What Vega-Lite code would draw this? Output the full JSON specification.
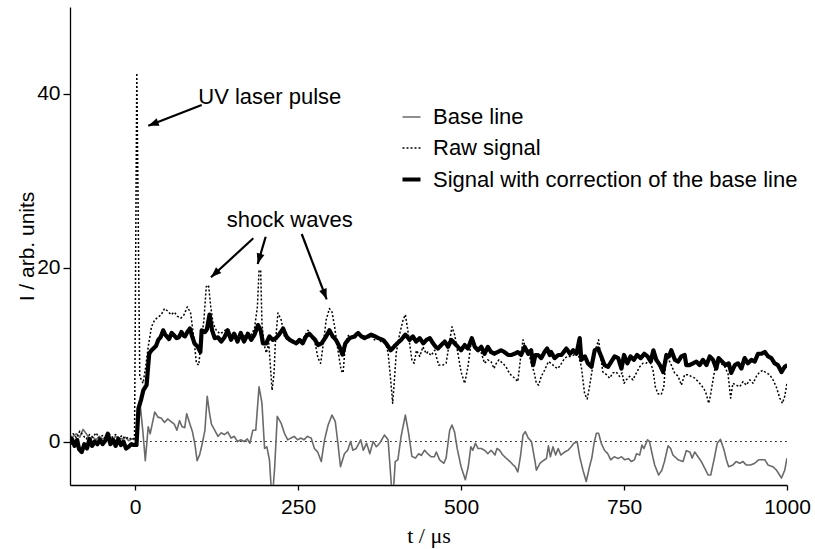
{
  "$schema": "https://vega.github.io/schema/vega-lite/v6.json",
  "autosize": "none",
  "width": 717,
  "height": 478,
  "padding": {"left": 70, "top": 7, "right": 28, "bottom": 64},
  "background": "white",
  "config": {
    "view": {"stroke": null},
    "axis": {"grid": false, "domainColor": "black", "domainWidth": 1.3, "tickColor": "black", "tickWidth": 1.3, "labelColor": "black", "titleColor": "black", "labelFont": "Liberation Sans", "labelFontSize": 21, "labelFontWeight": "normal", "titleFontWeight": "normal"},
    "legend": {"labelFont": "Liberation Sans", "labelFontSize": 22, "labelColor": "black", "labelLimit": 0}
  },
  "datasets": {
    "lines": [
      {"s":"base","t":-100,"v":0.3},{"s":"base","t":-95,"v":0.6},{"s":"base","t":-90,"v":0.9},{"s":"base","t":-85,"v":0.5},{"s":"base","t":-80,"v":1.4},{"s":"base","t":-75,"v":0.9},{"s":"base","t":-70,"v":0.3},{"s":"base","t":-65,"v":0.5},{"s":"base","t":-60,"v":0.2},{"s":"base","t":-55,"v":0.6},{"s":"base","t":-50,"v":0.3},{"s":"base","t":-45,"v":0.5},{"s":"base","t":-40,"v":0.7},{"s":"base","t":-35,"v":0.2},{"s":"base","t":-30,"v":0.6},{"s":"base","t":-25,"v":0.4},{"s":"base","t":-20,"v":0.3},{"s":"base","t":-15,"v":0.5},{"s":"base","t":-10,"v":0.1},{"s":"base","t":-5,"v":0.3},{"s":"base","t":0,"v":0.2},{"s":"base","t":4,"v":1.5},{"s":"base","t":8,"v":4.0},{"s":"base","t":12,"v":1.0},{"s":"base","t":15.5,"v":-2.2},{"s":"base","t":20,"v":1.7},{"s":"base","t":23,"v":0.9},{"s":"base","t":30,"v":3.4},{"s":"base","t":35,"v":2.8},{"s":"base","t":40,"v":2.7},{"s":"base","t":45,"v":2.2},{"s":"base","t":50,"v":2.6},{"s":"base","t":55,"v":2.3},{"s":"base","t":60,"v":2.0},{"s":"base","t":64,"v":1.3},{"s":"base","t":68,"v":2.4},{"s":"base","t":72,"v":1.7},{"s":"base","t":76,"v":1.6},{"s":"base","t":79,"v":3.2},{"s":"base","t":84,"v":2.0},{"s":"base","t":88,"v":1.1},{"s":"base","t":92,"v":-0.5},{"s":"base","t":95,"v":-2.2},{"s":"base","t":99,"v":-1.5},{"s":"base","t":103,"v":-0.2},{"s":"base","t":107,"v":1.3},{"s":"base","t":110.5,"v":5.2},{"s":"base","t":114,"v":3.3},{"s":"base","t":117,"v":2.0},{"s":"base","t":122,"v":1.3},{"s":"base","t":127,"v":0.6},{"s":"base","t":132,"v":1.0},{"s":"base","t":137,"v":0.8},{"s":"base","t":142,"v":1.1},{"s":"base","t":147,"v":0.4},{"s":"base","t":152,"v":0.6},{"s":"base","t":157,"v":0.0},{"s":"base","t":162,"v":0.2},{"s":"base","t":167,"v":0.0},{"s":"base","t":172,"v":0.3},{"s":"base","t":176,"v":-0.2},{"s":"base","t":180.5,"v":1.3},{"s":"base","t":185,"v":1.3},{"s":"base","t":190,"v":6.3},{"s":"base","t":194.5,"v":4.4},{"s":"base","t":198.5,"v":-0.8},{"s":"base","t":202,"v":-0.6},{"s":"base","t":206,"v":-2.1},{"s":"base","t":210,"v":-7},{"s":"base","t":214,"v":-3.0},{"s":"base","t":218,"v":2.9},{"s":"base","t":224,"v":2.1},{"s":"base","t":229,"v":0.95},{"s":"base","t":234,"v":0.2},{"s":"base","t":239,"v":0.4},{"s":"base","t":244,"v":0.6},{"s":"base","t":249,"v":0.2},{"s":"base","t":254,"v":0.4},{"s":"base","t":259,"v":0.2},{"s":"base","t":264,"v":0.6},{"s":"base","t":270,"v":0.4},{"s":"base","t":275,"v":-0.8},{"s":"base","t":280,"v":-1.2},{"s":"base","t":285.5,"v":-2.3},{"s":"base","t":290.5,"v":0.2},{"s":"base","t":296,"v":1.9},{"s":"base","t":302,"v":3.05},{"s":"base","t":307,"v":2.3},{"s":"base","t":311,"v":-0.2},{"s":"base","t":315,"v":-2.9},{"s":"base","t":321,"v":-1.4},{"s":"base","t":326,"v":-1.0},{"s":"base","t":330.5,"v":0.0},{"s":"base","t":334,"v":-1.0},{"s":"base","t":339,"v":-0.8},{"s":"base","t":346,"v":0.2},{"s":"base","t":350,"v":-1.0},{"s":"base","t":355,"v":-0.2},{"s":"base","t":360,"v":-1.4},{"s":"base","t":365,"v":0.0},{"s":"base","t":370,"v":-0.6},{"s":"base","t":375,"v":-0.2},{"s":"base","t":382.5,"v":0.75},{"s":"base","t":388,"v":0.2},{"s":"base","t":395,"v":-7},{"s":"base","t":399,"v":-2.3},{"s":"base","t":403,"v":-2.1},{"s":"base","t":408,"v":0.6},{"s":"base","t":414.5,"v":3.05},{"s":"base","t":419.5,"v":0.95},{"s":"base","t":424.5,"v":-1.7},{"s":"base","t":430,"v":-1.9},{"s":"base","t":435,"v":-1.4},{"s":"base","t":439,"v":-1.6},{"s":"base","t":444,"v":-1.0},{"s":"base","t":448,"v":-1.35},{"s":"base","t":454,"v":-1.75},{"s":"base","t":459,"v":-1.75},{"s":"base","t":462,"v":-1.2},{"s":"base","t":467,"v":-2.1},{"s":"base","t":473.5,"v":-2.5},{"s":"base","t":477,"v":-1.9},{"s":"base","t":482.5,"v":1.3},{"s":"base","t":486,"v":1.9},{"s":"base","t":490,"v":1.1},{"s":"base","t":494,"v":-0.8},{"s":"base","t":500,"v":-2.9},{"s":"base","t":506.5,"v":-4.4},{"s":"base","t":511,"v":-2.9},{"s":"base","t":515,"v":-0.6},{"s":"base","t":518,"v":-1.0},{"s":"base","t":522,"v":-0.2},{"s":"base","t":526,"v":-0.8},{"s":"base","t":531,"v":-0.8},{"s":"base","t":536,"v":-1.0},{"s":"base","t":541,"v":-1.4},{"s":"base","t":546,"v":-1.0},{"s":"base","t":552,"v":-1.55},{"s":"base","t":555,"v":-0.8},{"s":"base","t":559,"v":-1.0},{"s":"base","t":564,"v":-1.55},{"s":"base","t":569,"v":-1.9},{"s":"base","t":575,"v":-2.3},{"s":"base","t":580,"v":-2.7},{"s":"base","t":583,"v":-2.9},{"s":"base","t":587,"v":-3.5},{"s":"base","t":591,"v":-1.75},{"s":"base","t":595,"v":0.75},{"s":"base","t":598.5,"v":1.14},{"s":"base","t":603,"v":0.4},{"s":"base","t":608,"v":0.0},{"s":"base","t":613,"v":-2.1},{"s":"base","t":615.5,"v":-3.3},{"s":"base","t":621,"v":-2.5},{"s":"base","t":626,"v":-2.2},{"s":"base","t":631,"v":-1.95},{"s":"base","t":634,"v":-0.5},{"s":"base","t":637,"v":-1.75},{"s":"base","t":641,"v":-0.6},{"s":"base","t":645,"v":-1.55},{"s":"base","t":649,"v":-0.8},{"s":"base","t":653,"v":-1.55},{"s":"base","t":659,"v":-1.2},{"s":"base","t":664,"v":-1.0},{"s":"base","t":669,"v":-0.6},{"s":"base","t":673,"v":-0.2},{"s":"base","t":678,"v":0.0},{"s":"base","t":682,"v":-1.75},{"s":"base","t":687,"v":-3.3},{"s":"base","t":692,"v":-4.6},{"s":"base","t":697,"v":-2.9},{"s":"base","t":700.5,"v":-1.9},{"s":"base","t":704,"v":-0.2},{"s":"base","t":707.5,"v":0.95},{"s":"base","t":711,"v":0.95},{"s":"base","t":715,"v":-0.2},{"s":"base","t":720,"v":-1.0},{"s":"base","t":725,"v":-1.4},{"s":"base","t":729.5,"v":-2.1},{"s":"base","t":735,"v":-1.75},{"s":"base","t":741,"v":-1.95},{"s":"base","t":746,"v":-1.75},{"s":"base","t":751,"v":-2.1},{"s":"base","t":757,"v":-1.95},{"s":"base","t":761,"v":-2.3},{"s":"base","t":766,"v":-2.1},{"s":"base","t":769,"v":-1.4},{"s":"base","t":774,"v":-1.55},{"s":"base","t":777.5,"v":-0.4},{"s":"base","t":780.5,"v":-0.8},{"s":"base","t":786,"v":0.2},{"s":"base","t":789,"v":0.0},{"s":"base","t":793,"v":-1.4},{"s":"base","t":797,"v":-2.7},{"s":"base","t":803,"v":-3.85},{"s":"base","t":808,"v":-3.3},{"s":"base","t":812,"v":-2.3},{"s":"base","t":817.5,"v":-0.5},{"s":"base","t":821.5,"v":-0.8},{"s":"base","t":825,"v":-1.55},{"s":"base","t":833,"v":-2.1},{"s":"base","t":840.5,"v":-2.3},{"s":"base","t":845.5,"v":-1.05},{"s":"base","t":851,"v":-1.2},{"s":"base","t":854.5,"v":-1.9},{"s":"base","t":858.5,"v":-1.2},{"s":"base","t":863.5,"v":-1.75},{"s":"base","t":868.5,"v":-2.3},{"s":"base","t":874,"v":-3.1},{"s":"base","t":879,"v":-3.85},{"s":"base","t":883,"v":-3.85},{"s":"base","t":888,"v":-2.1},{"s":"base","t":893,"v":-0.2},{"s":"base","t":898,"v":0.25},{"s":"base","t":903.5,"v":-1.0},{"s":"base","t":907,"v":-2.1},{"s":"base","t":910.5,"v":-2.9},{"s":"base","t":917,"v":-2.7},{"s":"base","t":922,"v":-2.3},{"s":"base","t":927.5,"v":-2.5},{"s":"base","t":932.5,"v":-2.3},{"s":"base","t":937.5,"v":-2.7},{"s":"base","t":944,"v":-2.7},{"s":"base","t":950.5,"v":-2.5},{"s":"base","t":956.5,"v":-2.1},{"s":"base","t":966,"v":-2.1},{"s":"base","t":971,"v":-2.7},{"s":"base","t":978.5,"v":-2.9},{"s":"base","t":984,"v":-3.3},{"s":"base","t":991.5,"v":-4.2},{"s":"base","t":996.5,"v":-3.3},{"s":"base","t":1000,"v":-1.9},
      {"s":"raw","t":-100,"v":0.5},{"s":"raw","t":-95,"v":0.9},{"s":"raw","t":-90,"v":0.4},{"s":"raw","t":-85,"v":1.2},{"s":"raw","t":-80,"v":0.7},{"s":"raw","t":-75,"v":0.3},{"s":"raw","t":-70,"v":0.8},{"s":"raw","t":-65,"v":0.5},{"s":"raw","t":-60,"v":1.0},{"s":"raw","t":-55,"v":0.4},{"s":"raw","t":-50,"v":0.7},{"s":"raw","t":-45,"v":0.3},{"s":"raw","t":-40,"v":0.9},{"s":"raw","t":-35,"v":0.5},{"s":"raw","t":-30,"v":0.8},{"s":"raw","t":-25,"v":0.4},{"s":"raw","t":-20,"v":0.7},{"s":"raw","t":-15,"v":0.3},{"s":"raw","t":-10,"v":0.5},{"s":"raw","t":-5,"v":0.2},{"s":"raw","t":-1,"v":0.4},{"s":"raw","t":2.5,"v":42.4},{"s":"raw","t":7,"v":7.5},{"s":"raw","t":12,"v":6.7},{"s":"raw","t":16,"v":8.5},{"s":"raw","t":20,"v":10.9},{"s":"raw","t":25,"v":13.2},{"s":"raw","t":30,"v":14.0},{"s":"raw","t":35,"v":14.3},{"s":"raw","t":40,"v":14.6},{"s":"raw","t":45,"v":15.3},{"s":"raw","t":50,"v":15.0},{"s":"raw","t":55,"v":14.6},{"s":"raw","t":60,"v":14.9},{"s":"raw","t":65,"v":14.4},{"s":"raw","t":70,"v":14.2},{"s":"raw","t":75,"v":14.6},{"s":"raw","t":80,"v":15.5},{"s":"raw","t":85,"v":14.8},{"s":"raw","t":89,"v":12.5},{"s":"raw","t":94,"v":9.0},{"s":"raw","t":97.5,"v":8.8},{"s":"raw","t":101.5,"v":11.7},{"s":"raw","t":105.5,"v":14.0},{"s":"raw","t":109,"v":17.8},{"s":"raw","t":112.5,"v":18.0},{"s":"raw","t":116,"v":15.5},{"s":"raw","t":119.5,"v":13.6},{"s":"raw","t":124.5,"v":12.8},{"s":"raw","t":130,"v":12.4},{"s":"raw","t":135,"v":12.6},{"s":"raw","t":141,"v":13.0},{"s":"raw","t":146,"v":12.0},{"s":"raw","t":151,"v":12.6},{"s":"raw","t":156,"v":11.8},{"s":"raw","t":161,"v":12.4},{"s":"raw","t":166,"v":11.9},{"s":"raw","t":171,"v":12.5},{"s":"raw","t":176,"v":12.0},{"s":"raw","t":183,"v":13.0},{"s":"raw","t":187.5,"v":15.5},{"s":"raw","t":190,"v":19.7},{"s":"raw","t":192.5,"v":19.7},{"s":"raw","t":194.5,"v":13.6},{"s":"raw","t":197.5,"v":11.3},{"s":"raw","t":201,"v":10.2},{"s":"raw","t":205,"v":11.3},{"s":"raw","t":210,"v":5.9},{"s":"raw","t":213,"v":7.8},{"s":"raw","t":215,"v":11.3},{"s":"raw","t":219,"v":14.8},{"s":"raw","t":224,"v":14.0},{"s":"raw","t":229,"v":12.1},{"s":"raw","t":234,"v":11.6},{"s":"raw","t":239,"v":11.8},{"s":"raw","t":244,"v":11.4},{"s":"raw","t":249,"v":11.2},{"s":"raw","t":254,"v":11.6},{"s":"raw","t":259,"v":12.0},{"s":"raw","t":265,"v":12.8},{"s":"raw","t":270,"v":12.3},{"s":"raw","t":275,"v":11.7},{"s":"raw","t":280.5,"v":9.6},{"s":"raw","t":284.5,"v":9.0},{"s":"raw","t":288,"v":10.9},{"s":"raw","t":293,"v":14.0},{"s":"raw","t":298,"v":15.3},{"s":"raw","t":302,"v":14.9},{"s":"raw","t":306,"v":13.2},{"s":"raw","t":311,"v":10.5},{"s":"raw","t":316,"v":8.2},{"s":"raw","t":319,"v":7.9},{"s":"raw","t":322.5,"v":11.3},{"s":"raw","t":327,"v":12.2},{"s":"raw","t":332,"v":12.0},{"s":"raw","t":337,"v":11.9},{"s":"raw","t":342,"v":12.4},{"s":"raw","t":347,"v":12.0},{"s":"raw","t":352,"v":12.2},{"s":"raw","t":357,"v":11.8},{"s":"raw","t":362,"v":12.2},{"s":"raw","t":367,"v":11.7},{"s":"raw","t":372,"v":11.9},{"s":"raw","t":377,"v":11.5},{"s":"raw","t":383,"v":11.7},{"s":"raw","t":388,"v":10.2},{"s":"raw","t":392,"v":7.1},{"s":"raw","t":395,"v":4.4},{"s":"raw","t":397,"v":6.3},{"s":"raw","t":400.5,"v":10.2},{"s":"raw","t":405.5,"v":12.3},{"s":"raw","t":411,"v":14.0},{"s":"raw","t":414.5,"v":14.6},{"s":"raw","t":417.5,"v":13.2},{"s":"raw","t":421,"v":11.3},{"s":"raw","t":424.5,"v":9.4},{"s":"raw","t":428,"v":9.0},{"s":"raw","t":431.5,"v":10.5},{"s":"raw","t":436.5,"v":9.8},{"s":"raw","t":441.5,"v":10.9},{"s":"raw","t":446.5,"v":10.1},{"s":"raw","t":449,"v":10.3},{"s":"raw","t":454,"v":9.9},{"s":"raw","t":459.5,"v":10.5},{"s":"raw","t":465.5,"v":8.8},{"s":"raw","t":472,"v":8.8},{"s":"raw","t":477,"v":9.0},{"s":"raw","t":481,"v":10.9},{"s":"raw","t":486,"v":13.2},{"s":"raw","t":490,"v":12.3},{"s":"raw","t":495,"v":10.2},{"s":"raw","t":500,"v":8.0},{"s":"raw","t":505.5,"v":6.7},{"s":"raw","t":510.5,"v":8.6},{"s":"raw","t":515.5,"v":11.5},{"s":"raw","t":521,"v":11.1},{"s":"raw","t":526,"v":10.5},{"s":"raw","t":531,"v":10.2},{"s":"raw","t":536,"v":9.0},{"s":"raw","t":541,"v":9.4},{"s":"raw","t":546,"v":9.2},{"s":"raw","t":550.5,"v":8.4},{"s":"raw","t":554,"v":9.0},{"s":"raw","t":558,"v":9.4},{"s":"raw","t":564,"v":9.0},{"s":"raw","t":569,"v":8.6},{"s":"raw","t":574.5,"v":7.8},{"s":"raw","t":582,"v":7.3},{"s":"raw","t":587,"v":6.9},{"s":"raw","t":591.5,"v":9.8},{"s":"raw","t":595,"v":11.7},{"s":"raw","t":598.5,"v":10.9},{"s":"raw","t":603,"v":10.5},{"s":"raw","t":607.5,"v":9.0},{"s":"raw","t":612,"v":8.0},{"s":"raw","t":615.5,"v":6.7},{"s":"raw","t":619,"v":6.5},{"s":"raw","t":623,"v":7.5},{"s":"raw","t":628,"v":8.2},{"s":"raw","t":634,"v":9.2},{"s":"raw","t":638.5,"v":9.0},{"s":"raw","t":643.5,"v":8.6},{"s":"raw","t":648.5,"v":8.4},{"s":"raw","t":654,"v":9.0},{"s":"raw","t":659,"v":9.6},{"s":"raw","t":664,"v":9.8},{"s":"raw","t":669,"v":9.8},{"s":"raw","t":674,"v":10.0},{"s":"raw","t":679.5,"v":10.1},{"s":"raw","t":684.5,"v":8.6},{"s":"raw","t":689.5,"v":5.5},{"s":"raw","t":693.5,"v":4.9},{"s":"raw","t":697,"v":6.3},{"s":"raw","t":701,"v":8.2},{"s":"raw","t":704,"v":10.2},{"s":"raw","t":707.5,"v":10.9},{"s":"raw","t":711,"v":11.7},{"s":"raw","t":714,"v":9.8},{"s":"raw","t":717.5,"v":8.0},{"s":"raw","t":723,"v":7.7},{"s":"raw","t":728,"v":7.3},{"s":"raw","t":733,"v":7.9},{"s":"raw","t":738,"v":8.0},{"s":"raw","t":743,"v":7.5},{"s":"raw","t":747,"v":7.9},{"s":"raw","t":750,"v":6.7},{"s":"raw","t":753.5,"v":7.1},{"s":"raw","t":758.5,"v":7.5},{"s":"raw","t":763.5,"v":7.1},{"s":"raw","t":769,"v":7.9},{"s":"raw","t":774,"v":8.6},{"s":"raw","t":779,"v":9.0},{"s":"raw","t":784,"v":9.0},{"s":"raw","t":789,"v":9.4},{"s":"raw","t":794.5,"v":8.2},{"s":"raw","t":798,"v":6.3},{"s":"raw","t":802,"v":5.5},{"s":"raw","t":807,"v":5.4},{"s":"raw","t":811,"v":6.3},{"s":"raw","t":813.5,"v":8.8},{"s":"raw","t":817.5,"v":9.6},{"s":"raw","t":822.5,"v":8.8},{"s":"raw","t":827.5,"v":7.9},{"s":"raw","t":833,"v":7.5},{"s":"raw","t":838,"v":6.5},{"s":"raw","t":843,"v":7.7},{"s":"raw","t":848,"v":7.7},{"s":"raw","t":853,"v":7.5},{"s":"raw","t":858.5,"v":7.3},{"s":"raw","t":866,"v":6.7},{"s":"raw","t":872.5,"v":6.1},{"s":"raw","t":876,"v":5.5},{"s":"raw","t":880,"v":4.4},{"s":"raw","t":883,"v":5.5},{"s":"raw","t":886.5,"v":7.1},{"s":"raw","t":890,"v":8.6},{"s":"raw","t":894,"v":9.0},{"s":"raw","t":899,"v":9.0},{"s":"raw","t":904.5,"v":8.6},{"s":"raw","t":909.5,"v":7.8},{"s":"raw","t":913.5,"v":5.0},{"s":"raw","t":917,"v":6.7},{"s":"raw","t":922,"v":6.5},{"s":"raw","t":927.5,"v":6.3},{"s":"raw","t":932.5,"v":6.9},{"s":"raw","t":937.5,"v":6.5},{"s":"raw","t":943,"v":7.1},{"s":"raw","t":948,"v":6.7},{"s":"raw","t":953,"v":7.5},{"s":"raw","t":958,"v":8.0},{"s":"raw","t":963,"v":8.2},{"s":"raw","t":968,"v":7.9},{"s":"raw","t":973.5,"v":7.7},{"s":"raw","t":978.5,"v":7.1},{"s":"raw","t":983.5,"v":6.3},{"s":"raw","t":989,"v":5.0},{"s":"raw","t":993,"v":4.4},{"s":"raw","t":996.5,"v":5.2},{"s":"raw","t":1000,"v":6.7},
      {"s":"corr","t":-100,"v":-0.3},{"s":"corr","t":-97,"v":0.3},{"s":"corr","t":-93,"v":-0.5},{"s":"corr","t":-89,"v":0.2},{"s":"corr","t":-86,"v":-0.9},{"s":"corr","t":-82,"v":-1.2},{"s":"corr","t":-78,"v":-0.3},{"s":"corr","t":-74,"v":-0.8},{"s":"corr","t":-70,"v":0.3},{"s":"corr","t":-66,"v":-0.5},{"s":"corr","t":-62,"v":0.0},{"s":"corr","t":-58,"v":-0.3},{"s":"corr","t":-54,"v":0.2},{"s":"corr","t":-50,"v":-0.3},{"s":"corr","t":-46,"v":0.1},{"s":"corr","t":-42,"v":0.9},{"s":"corr","t":-38,"v":-0.3},{"s":"corr","t":-34,"v":0.2},{"s":"corr","t":-30,"v":-0.5},{"s":"corr","t":-26,"v":0.3},{"s":"corr","t":-22,"v":-0.4},{"s":"corr","t":-18,"v":0.0},{"s":"corr","t":-14,"v":-0.8},{"s":"corr","t":-10,"v":-0.6},{"s":"corr","t":-6,"v":-0.3},{"s":"corr","t":-2,"v":-0.4},{"s":"corr","t":2,"v":-0.4},{"s":"corr","t":5,"v":3.8},{"s":"corr","t":9,"v":4.8},{"s":"corr","t":12.5,"v":5.9},{"s":"corr","t":17.5,"v":6.5},{"s":"corr","t":21.5,"v":10.1},{"s":"corr","t":25,"v":10.5},{"s":"corr","t":28,"v":10.7},{"s":"corr","t":32,"v":11.0},{"s":"corr","t":35.5,"v":11.7},{"s":"corr","t":39,"v":12.0},{"s":"corr","t":43,"v":12.8},{"s":"corr","t":46,"v":12.3},{"s":"corr","t":48.5,"v":12.1},{"s":"corr","t":52,"v":11.8},{"s":"corr","t":56,"v":12.5},{"s":"corr","t":60,"v":12.2},{"s":"corr","t":63.5,"v":11.9},{"s":"corr","t":67,"v":12.0},{"s":"corr","t":71,"v":12.6},{"s":"corr","t":74,"v":12.2},{"s":"corr","t":76.5,"v":12.1},{"s":"corr","t":80,"v":12.6},{"s":"corr","t":84,"v":13.0},{"s":"corr","t":87,"v":12.2},{"s":"corr","t":91,"v":11.3},{"s":"corr","t":96,"v":10.9},{"s":"corr","t":100,"v":10.3},{"s":"corr","t":102,"v":12.8},{"s":"corr","t":107,"v":12.6},{"s":"corr","t":110,"v":12.9},{"s":"corr","t":114,"v":14.6},{"s":"corr","t":118,"v":12.8},{"s":"corr","t":122,"v":11.9},{"s":"corr","t":127,"v":12.0},{"s":"corr","t":132,"v":11.5},{"s":"corr","t":137,"v":12.0},{"s":"corr","t":142,"v":12.8},{"s":"corr","t":147,"v":11.7},{"s":"corr","t":152,"v":12.4},{"s":"corr","t":157,"v":11.5},{"s":"corr","t":162,"v":12.5},{"s":"corr","t":167,"v":11.5},{"s":"corr","t":173,"v":12.4},{"s":"corr","t":178,"v":11.7},{"s":"corr","t":183,"v":12.3},{"s":"corr","t":188.5,"v":13.4},{"s":"corr","t":192.5,"v":12.8},{"s":"corr","t":196,"v":11.3},{"s":"corr","t":201,"v":11.3},{"s":"corr","t":206,"v":12.1},{"s":"corr","t":211,"v":11.7},{"s":"corr","t":216,"v":11.9},{"s":"corr","t":221.5,"v":12.4},{"s":"corr","t":227,"v":13.0},{"s":"corr","t":232,"v":12.1},{"s":"corr","t":237,"v":11.7},{"s":"corr","t":242,"v":11.5},{"s":"corr","t":247,"v":11.3},{"s":"corr","t":252,"v":11.7},{"s":"corr","t":257,"v":11.3},{"s":"corr","t":262,"v":12.1},{"s":"corr","t":267,"v":12.4},{"s":"corr","t":271,"v":12.1},{"s":"corr","t":276,"v":11.7},{"s":"corr","t":280.5,"v":11.1},{"s":"corr","t":286,"v":11.3},{"s":"corr","t":293,"v":12.1},{"s":"corr","t":298,"v":12.8},{"s":"corr","t":303,"v":12.1},{"s":"corr","t":308,"v":11.7},{"s":"corr","t":313.5,"v":10.9},{"s":"corr","t":318,"v":10.0},{"s":"corr","t":322.5,"v":11.3},{"s":"corr","t":329,"v":11.9},{"s":"corr","t":336.5,"v":12.1},{"s":"corr","t":342,"v":12.5},{"s":"corr","t":347,"v":12.1},{"s":"corr","t":352,"v":11.9},{"s":"corr","t":357,"v":12.1},{"s":"corr","t":362,"v":12.3},{"s":"corr","t":368,"v":12.1},{"s":"corr","t":373,"v":11.9},{"s":"corr","t":380,"v":11.7},{"s":"corr","t":385,"v":11.3},{"s":"corr","t":392,"v":10.5},{"s":"corr","t":397,"v":10.9},{"s":"corr","t":402,"v":11.3},{"s":"corr","t":408,"v":11.7},{"s":"corr","t":414.5,"v":12.3},{"s":"corr","t":421,"v":11.7},{"s":"corr","t":426,"v":12.1},{"s":"corr","t":431,"v":11.5},{"s":"corr","t":436.5,"v":11.9},{"s":"corr","t":442,"v":11.3},{"s":"corr","t":447,"v":11.7},{"s":"corr","t":452,"v":11.9},{"s":"corr","t":457,"v":11.3},{"s":"corr","t":461,"v":10.9},{"s":"corr","t":464.5,"v":10.7},{"s":"corr","t":469.5,"v":11.1},{"s":"corr","t":475,"v":11.5},{"s":"corr","t":480,"v":10.9},{"s":"corr","t":485,"v":11.7},{"s":"corr","t":490,"v":11.3},{"s":"corr","t":495,"v":10.9},{"s":"corr","t":500,"v":10.5},{"s":"corr","t":505.5,"v":11.1},{"s":"corr","t":510.5,"v":10.7},{"s":"corr","t":516.5,"v":11.9},{"s":"corr","t":521,"v":10.9},{"s":"corr","t":526,"v":10.5},{"s":"corr","t":531,"v":10.9},{"s":"corr","t":536,"v":10.1},{"s":"corr","t":541,"v":10.9},{"s":"corr","t":546,"v":10.3},{"s":"corr","t":551,"v":10.1},{"s":"corr","t":556,"v":10.3},{"s":"corr","t":561.5,"v":10.5},{"s":"corr","t":566.5,"v":10.3},{"s":"corr","t":572,"v":9.96},{"s":"corr","t":577,"v":9.96},{"s":"corr","t":582,"v":10.1},{"s":"corr","t":587,"v":10.3},{"s":"corr","t":592,"v":9.96},{"s":"corr","t":597.5,"v":10.9},{"s":"corr","t":603,"v":10.1},{"s":"corr","t":607.5,"v":10.5},{"s":"corr","t":610.5,"v":8.8},{"s":"corr","t":614,"v":9.96},{"s":"corr","t":618,"v":9.96},{"s":"corr","t":623,"v":9.6},{"s":"corr","t":628,"v":10.3},{"s":"corr","t":632,"v":10.7},{"s":"corr","t":636,"v":9.96},{"s":"corr","t":638,"v":10.3},{"s":"corr","t":643.5,"v":9.6},{"s":"corr","t":649,"v":9.96},{"s":"corr","t":654,"v":9.96},{"s":"corr","t":661.5,"v":10.7},{"s":"corr","t":667,"v":10.1},{"s":"corr","t":672,"v":10.5},{"s":"corr","t":677,"v":10.1},{"s":"corr","t":682,"v":11.9},{"s":"corr","t":684.5,"v":9.4},{"s":"corr","t":690,"v":9.8},{"s":"corr","t":694.5,"v":9.0},{"s":"corr","t":700,"v":8.6},{"s":"corr","t":705,"v":10.5},{"s":"corr","t":710,"v":10.7},{"s":"corr","t":715,"v":9.8},{"s":"corr","t":720,"v":8.8},{"s":"corr","t":725.5,"v":8.6},{"s":"corr","t":730.5,"v":9.2},{"s":"corr","t":735.5,"v":9.8},{"s":"corr","t":741,"v":9.6},{"s":"corr","t":746,"v":8.4},{"s":"corr","t":750,"v":9.96},{"s":"corr","t":755,"v":9.0},{"s":"corr","t":760,"v":9.8},{"s":"corr","t":765,"v":9.4},{"s":"corr","t":770,"v":9.96},{"s":"corr","t":775.5,"v":9.6},{"s":"corr","t":781,"v":10.1},{"s":"corr","t":786,"v":9.8},{"s":"corr","t":791,"v":9.2},{"s":"corr","t":795,"v":10.5},{"s":"corr","t":799.5,"v":9.4},{"s":"corr","t":805,"v":8.8},{"s":"corr","t":810,"v":8.0},{"s":"corr","t":815,"v":9.96},{"s":"corr","t":819,"v":9.8},{"s":"corr","t":822.5,"v":10.5},{"s":"corr","t":828,"v":9.4},{"s":"corr","t":833,"v":9.2},{"s":"corr","t":838,"v":9.8},{"s":"corr","t":843,"v":9.96},{"s":"corr","t":845.5,"v":8.8},{"s":"corr","t":850.5,"v":8.8},{"s":"corr","t":856,"v":9.0},{"s":"corr","t":861,"v":9.2},{"s":"corr","t":866,"v":8.8},{"s":"corr","t":871,"v":9.4},{"s":"corr","t":876.5,"v":8.8},{"s":"corr","t":881.5,"v":9.8},{"s":"corr","t":886.5,"v":9.4},{"s":"corr","t":891.5,"v":8.4},{"s":"corr","t":895,"v":9.6},{"s":"corr","t":900.5,"v":9.2},{"s":"corr","t":905.5,"v":8.8},{"s":"corr","t":910.5,"v":9.0},{"s":"corr","t":914.5,"v":7.9},{"s":"corr","t":920,"v":8.8},{"s":"corr","t":925,"v":9.0},{"s":"corr","t":930,"v":8.4},{"s":"corr","t":935,"v":9.6},{"s":"corr","t":940,"v":9.0},{"s":"corr","t":945.5,"v":9.4},{"s":"corr","t":950.5,"v":9.2},{"s":"corr","t":955.5,"v":10.1},{"s":"corr","t":960.5,"v":10.1},{"s":"corr","t":966,"v":10.3},{"s":"corr","t":971,"v":9.8},{"s":"corr","t":976,"v":9.6},{"s":"corr","t":981,"v":9.0},{"s":"corr","t":986,"v":8.8},{"s":"corr","t":991.5,"v":8.0},{"s":"corr","t":996.5,"v":8.6},{"s":"corr","t":1000.5,"v":8.8}
    ],
    "zero": [{"t": 0, "t2": 1000, "v": 0}],
    "arrows": [
      {"t": 102.05, "v": 38.72, "t2": 20.13, "v2": 36.34},
      {"t": 181.2, "v": 23.39, "t2": 116.3, "v2": 18.9},
      {"t": 200.2, "v": 23.57, "t2": 187.96, "v2": 20.43},
      {"t": 255.5, "v": 23.88, "t2": 293.8, "v2": 16.37}
    ],
    "notes": [
      {"t": 96.8, "v": 38.84, "label": "UV laser pulse"},
      {"t": 140.4, "v": 24.72, "label": "shock waves"}
    ]
  },
  "encoding": {
    "x": {"field": "t", "type": "quantitative", "scale": {"domain": [-100, 1000], "nice": false, "zero": false},
      "axis": {"values": [0, 250, 500, 750, 1000], "format": "d", "tickSize": 5, "labelPadding": 6, "title": "t / μs", "titleFont": "Liberation Serif", "titleFontSize": 22, "titleBaseline": "alphabetic", "titleY": 57, "labelFlush": false}},
    "y": {"field": "v", "type": "quantitative", "scale": {"domain": [-5, 50], "nice": false, "zero": false},
      "axis": {"values": [0, 20, 40], "tickSize": 7, "labelPadding": 3, "title": "I / arb. units", "titleFont": "Liberation Sans", "titleFontSize": 21, "titleBaseline": "alphabetic", "titleX": -37, "titleAngle": 270}}
  },
  "layer": [
    {
      "data": {"name": "zero"},
      "mark": {"type": "rule", "color": "black", "strokeWidth": 1, "strokeDash": [1.5, 3.5]},
      "encoding": {"x2": {"field": "t2"}}
    },
    {
      "data": {"name": "lines"},
      "mark": {"type": "line", "clip": true, "strokeJoin": "round", "strokeCap": "butt"},
      "encoding": {
        "detail": {"field": "s"},
        "color": {"field": "s", "type": "nominal", "scale": {"domain": ["base", "raw", "corr"], "range": ["#6a6a6a", "#000000", "#000000"]},
          "legend": {"orient": "none", "legendX": 330, "legendY": 99, "title": null, "symbolType": "stroke", "symbolSize": 324, "labelOffset": 10, "rowPadding": 9, "labelFontSize": 22, "labelLimit": 0,
            "labelExpr": "datum.value == 'base' ? 'Base line' : datum.value == 'raw' ? 'Raw signal' : 'Signal with correction of the base line'"}},
        "strokeDash": {"field": "s", "type": "nominal", "scale": {"domain": ["base", "raw", "corr"], "range": [[1, 0], [2, 2], [1, 0]]},
          "legend": {"orient": "none", "legendX": 330, "legendY": 99, "title": null, "symbolType": "stroke", "symbolSize": 324, "labelOffset": 10, "rowPadding": 9, "labelFontSize": 22, "labelLimit": 0,
            "labelExpr": "datum.value == 'base' ? 'Base line' : datum.value == 'raw' ? 'Raw signal' : 'Signal with correction of the base line'"}},
        "strokeWidth": {"field": "s", "type": "nominal", "scale": {"type": "ordinal", "domain": ["base", "raw", "corr"], "range": [1.6, 1.5, 4.2]},
          "legend": {"orient": "none", "legendX": 330, "legendY": 99, "title": null, "symbolType": "stroke", "symbolSize": 324, "labelOffset": 10, "rowPadding": 9, "labelFontSize": 22, "labelLimit": 0,
            "labelExpr": "datum.value == 'base' ? 'Base line' : datum.value == 'raw' ? 'Raw signal' : 'Signal with correction of the base line'"}},
        "order": {"field": "t", "type": "quantitative"}
      }
    },
    {
      "data": {"name": "arrows"},
      "mark": {"type": "rule", "color": "black", "strokeWidth": 2.2},
      "encoding": {"x2": {"field": "t2"}, "y2": {"field": "v2"}}
    },
    {
      "data": {"values": [{"t": 20.13, "v": 36.34}]},
      "mark": {"type": "point", "shape": "M0,0L-0.75,2L0.75,2Z", "filled": true, "color": "black", "opacity": 1, "size": 110, "angle": 249}
    },
    {
      "data": {"values": [{"t": 116.3, "v": 18.9}]},
      "mark": {"type": "point", "shape": "M0,0L-0.75,2L0.75,2Z", "filled": true, "color": "black", "opacity": 1, "size": 110, "angle": 227}
    },
    {
      "data": {"values": [{"t": 187.96, "v": 20.43}]},
      "mark": {"type": "point", "shape": "M0,0L-0.75,2L0.75,2Z", "filled": true, "color": "black", "opacity": 1, "size": 110, "angle": 196}
    },
    {
      "data": {"values": [{"t": 293.8, "v": 16.37}]},
      "mark": {"type": "point", "shape": "M0,0L-0.75,2L0.75,2Z", "filled": true, "color": "black", "opacity": 1, "size": 110, "angle": 159}
    },
    {
      "data": {"name": "notes"},
      "mark": {"type": "text", "align": "left", "baseline": "alphabetic", "font": "Liberation Sans", "fontSize": 22, "color": "black"},
      "encoding": {"text": {"field": "label"}}
    }
  ]
}
